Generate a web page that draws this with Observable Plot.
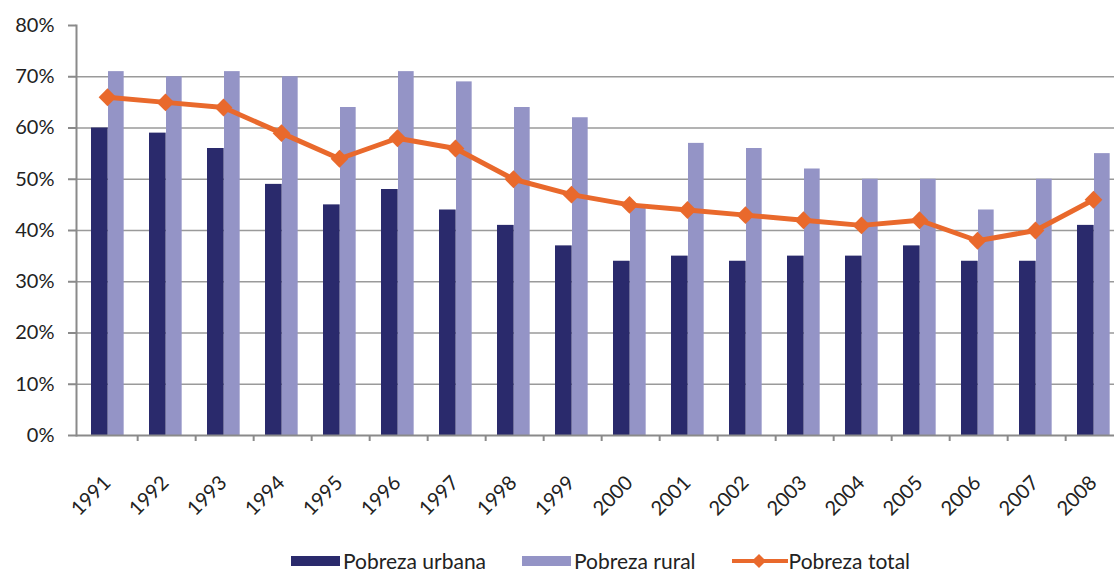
<!DOCTYPE html>
<html>
<head>
<meta charset="utf-8">
<script src="https://cdn.jsdelivr.net/npm/d3@7"></script>
<script src="https://cdn.jsdelivr.net/npm/@observablehq/plot@0.6"></script>
<style>
  html, body { margin: 0; padding: 0; background: #fff; overflow: hidden; width: 1114px; height: 571px; }
  #chart { position: absolute; left: 0; top: 0; width: 1130px; }
  #chart svg { max-width: none !important; }
  #legend { position: absolute; left: 291px; top: 550px; display: flex; align-items: center; font-family: Lato, "Open Sans", sans-serif; font-size: 21px; line-height: 22px; color: #222; white-space: nowrap; }
  .item { display: flex; align-items: center; margin-right: 36px; }
  .sw { display: inline-block; width: 49px; height: 10px; margin-right: 3px; }
  .ln { position: relative; display: inline-block; width: 56px; height: 14px; margin-right: 1px; }
  .ln .l { position: absolute; left: 0; right: 0; top: 5px; height: 4px; background: #E9692C; }
  .ln .d { position: absolute; left: 22px; top: 2px; width: 10px; height: 10px; background: #E9692C; transform: rotate(45deg); }
</style>
</head>
<body>
<div id="chart"></div>
<div id="legend">
  <div class="item"><span class="sw" style="background:#2A2A6C"></span>Pobreza urbana</div>
  <div class="item"><span class="sw" style="background:#9494C6"></span>Pobreza rural</div>
  <div class="item"><span class="ln"><span class="l"></span><span class="d"></span></span>Pobreza total</div>
</div>
<script>
const years = ["1991","1992","1993","1994","1995","1996","1997","1998","1999","2000","2001","2002","2003","2004","2005","2006","2007","2008"];
const urbana = [60,59,56,49,45,48,44,41,37,34,35,34,35,35,37,34,34,41];
const rural  = [71,70,71,70,64,71,69,64,62,45,57,56,52,50,50,44,50,55];
const total  = [66,65,64,59,54,58,56,50,47,45,44,43,42,41,42,38,40,46];
const yTicks = [0,10,20,30,40,50,60,70,80];

const data = years.map((y, i) => ({year: y, urbana: urbana[i], rural: rural[i], total: total[i]}));

const W = 1130, ML = 76, MR = 4;
const bw = (W - ML - MR) / years.length;
const font = "Lato, 'Open Sans', sans-serif";

const chart = Plot.plot({
  width: W,
  height: 530,
  marginLeft: ML,
  marginRight: MR,
  marginTop: 25,
  marginBottom: 95,
  style: {fontFamily: font, fontSize: "18px", color: "#222", background: "transparent", maxWidth: "none"},
  x: {type: "band", domain: years, paddingInner: 0, paddingOuter: 0, label: null},
  y: {domain: [0, 80], label: null},
  marks: [
    Plot.ruleY(yTicks.filter(d => d > 0 && d < 80), {stroke: "#9a9a9a", strokeWidth: 1.5}),
    Plot.barY(data, {x: "year", y: "urbana", fill: "#2A2A6C", insetLeft: 12, insetRight: bw - 29}),
    Plot.barY(data, {x: "year", y: "rural", fill: "#9494C6", insetLeft: 29, insetRight: bw - 45}),
    Plot.ruleY([0], {stroke: "#8a8a8a", strokeWidth: 2}),
    Plot.frame({anchor: "left", stroke: "#8a8a8a", strokeWidth: 2}),
    Plot.lineY(data, {x: "year", y: "total", stroke: "#E9692C", strokeWidth: 5, dx: -1}),
    Plot.dot(data, {x: "year", y: "total", fill: "#E9692C", symbol: "diamond2", r: 8, dx: -1}),
    Plot.axisY({ticks: yTicks, tickFormat: d => d + "%", tickSize: 8, tickPadding: 14, stroke: "#8a8a8a", strokeWidth: 2, fontSize: 20, fill: "#222", label: null}),
    Plot.axisX({ticks: years.slice(0, -1), tickSize: 6, dx: bw / 2, tickFormat: () => "", stroke: "#8a8a8a", strokeWidth: 2, label: null}),
    Plot.axisX({tickSize: 0, tickRotate: -45, tickPadding: 44, dx: -1, fontSize: 20, fill: "#222", label: null})
  ]
});
document.getElementById("chart").appendChild(chart);
</script>
</body>
</html>
